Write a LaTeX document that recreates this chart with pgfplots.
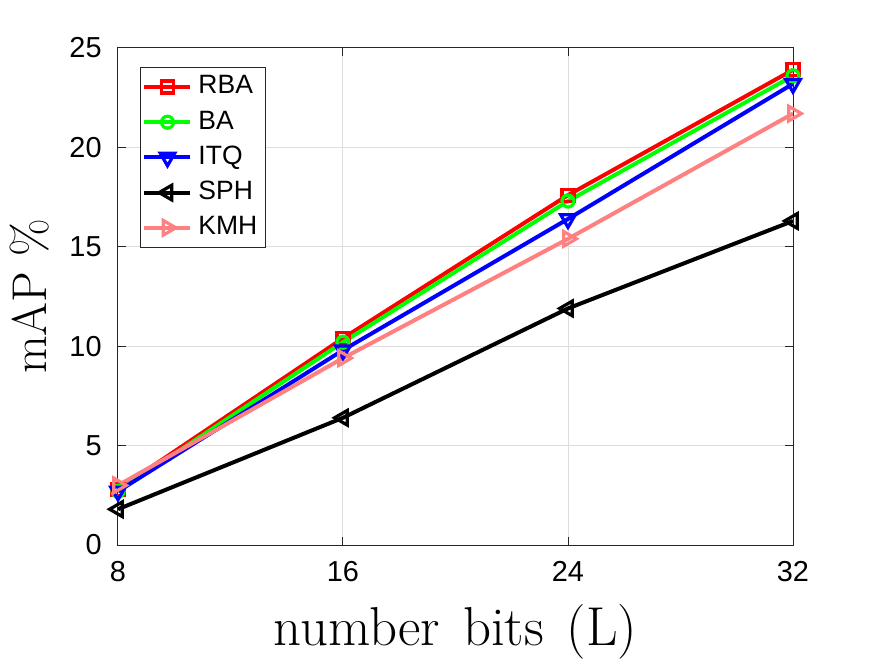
\documentclass[border=0pt]{standalone}
\usepackage{fontspec}
\usepackage{pgfplots}
\pgfplotsset{compat=1.18}
\newfontfamily\helv{Liberation Sans}
\definecolor{axisgray}{rgb}{0.15,0.15,0.15}
\definecolor{gridgray}{rgb}{0.87,0.87,0.87}
\definecolor{kmhpink}{rgb}{1,0.5,0.5}

\begin{document}
\begin{tikzpicture}
\begin{axis}[
  at={(0,0)}, anchor=south west,
  scale only axis,
  width=337.5bp, height=248.5bp,
  xmin=8, xmax=32, ymin=0, ymax=25,
  xtick={8,16,24,32}, ytick={0,5,10,15,20,25},
  axis line style={axisgray, line width=0.5bp},
  tick style={axisgray, line width=0.5bp},
  tick align=inside, major tick length=4bp,
  xmajorgrids, ymajorgrids,
  major grid style={gridgray, line width=0.5bp},
  /pgf/number format/assume math mode=true,
  ticklabel style={font=\helv\fontsize{14.5}{17}\selectfont, text=black},
  yticklabel style={anchor=east, inner sep=0pt, xshift=-8bp},
  xticklabel style={anchor=north, inner sep=0pt, yshift=-8bp},
  xlabel={number\hspace{0.42em}bits\hspace{0.42em}(L)},
  ylabel={mAP \%},
  label style={text=black},
  xlabel style={font=\fontsize{27.5}{32}\selectfont,
    at={([yshift=-50bp]axis description cs:0.5,0)}, anchor=base},
  ylabel style={font=\fontsize{24.5}{29}\selectfont,
    at={([xshift=-35.5bp]axis description cs:0,0.5)}, anchor=base},
  legend style={at={(0.0326,0.962)}, anchor=north west,
    draw=axisgray, line width=0.5bp, fill=white,
    font=\helv\fontsize{13.3}{15}\selectfont,
    inner sep=1bp, row sep=0pt,
    nodes={text height=9.5bp, text depth=2.5bp, inner ysep=2.8bp, inner xsep=3bp}},
  legend cell align=left,
  legend image code/.code={
    \draw[mark repeat=2, mark phase=2] plot coordinates {(0bp,0bp) (11.5bp,0bp) (23bp,0bp)};
  },
  every axis plot/.append style={line width=2bp},
]
\addplot[red, mark=square, mark size=3bp, mark options={solid, line width=1.6bp}]
  coordinates {(8,2.8) (16,10.4) (24,17.6) (32,23.9)};
\addlegendentry{RBA}
\addplot[green, mark=o, mark size=3bp, mark options={solid, line width=1.6bp}]
  coordinates {(8,2.7) (16,10.2) (24,17.3) (32,23.6)};
\addlegendentry{BA}
\addplot[blue, mark=triangle, mark size=4.2bp, mark options={solid, rotate=180, line width=1.6bp}]
  coordinates {(8,2.7) (16,9.8) (24,16.4) (32,23.2)};
\addlegendentry{ITQ}
\addplot[black, mark=triangle, mark size=4.2bp, mark options={solid, rotate=90, line width=1.6bp}]
  coordinates {(8,1.8) (16,6.4) (24,11.9) (32,16.3)};
\addlegendentry{SPH}
\addplot[kmhpink, mark=triangle, mark size=4.2bp, mark options={solid, rotate=-90, line width=1.6bp}]
  coordinates {(8,3.0) (16,9.4) (24,15.4) (32,21.7)};
\addlegendentry{KMH}
\end{axis}
\useasboundingbox (-59bp,-56bp) rectangle (378.5bp,272.5bp);
\end{tikzpicture}
\end{document}
